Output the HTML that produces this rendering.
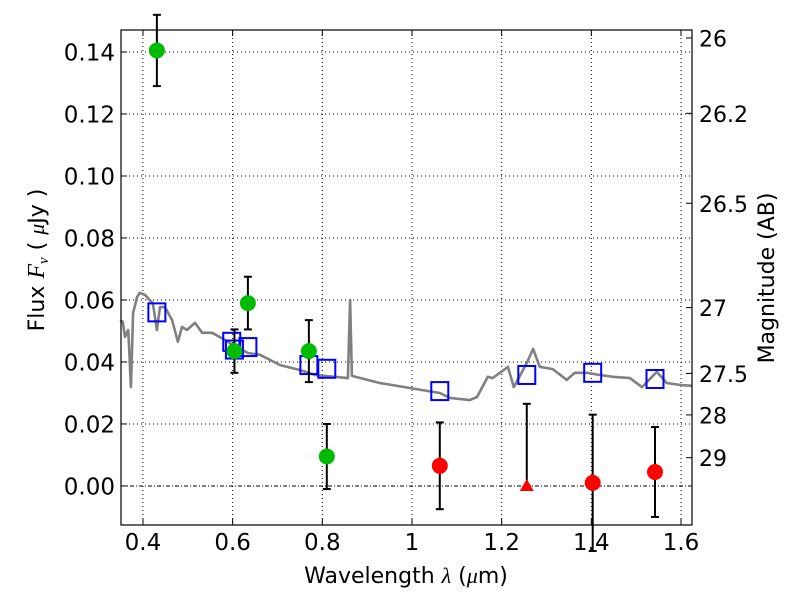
<!DOCTYPE html>
<html><head><meta charset="utf-8"><style>
html,body{margin:0;padding:0;background:#fff;}
svg{display:block;font-family:"DejaVu Sans","Liberation Sans",sans-serif;}
</style></head><body>
<svg id="chart" width="800" height="600"></svg>
<script>
const specLambda=[0.349,0.355,0.360,0.367,0.369,0.373,0.378,0.387,0.393,0.405,0.411,0.422,0.431,0.438,0.449,0.465,0.478,0.487,0.498,0.516,0.532,0.554,0.576,0.594,0.621,0.634,0.661,0.706,0.750,0.784,0.857,0.862,0.866,0.928,0.995,1.062,1.085,1.129,1.145,1.169,1.180,1.214,1.227,1.256,1.270,1.285,1.314,1.345,1.363,1.390,1.419,1.448,1.486,1.513,1.546,1.568,1.597,1.625];
const specFlux=[0.0535,0.0529,0.0481,0.0503,0.0448,0.0319,0.0558,0.0610,0.0623,0.0616,0.0606,0.0590,0.0503,0.0577,0.0577,0.0535,0.0465,0.0513,0.0503,0.0526,0.0494,0.0494,0.0477,0.0461,0.0439,0.0429,0.0423,0.0390,0.0374,0.0358,0.0348,0.0600,0.0355,0.0332,0.0316,0.0300,0.0284,0.0277,0.0287,0.0352,0.0348,0.0384,0.0319,0.0397,0.0442,0.0384,0.0377,0.0342,0.0365,0.0365,0.0358,0.0352,0.0348,0.0319,0.0368,0.0332,0.0326,0.0323];
const modelLambda=[0.431,0.598,0.604,0.634,0.770,0.810,1.062,1.256,1.403,1.542];
const modelFlux=[0.0560,0.0465,0.0440,0.0448,0.0390,0.0378,0.0306,0.0358,0.0365,0.0345];
const greenLambda=[0.431,0.604,0.634,0.770,0.810];
const greenFlux=[0.1405,0.0435,0.0590,0.0435,0.0095];
const greenErr=[0.0115,0.0070,0.0085,0.0100,0.0105];
const redLambda=[1.062,1.403,1.542];
const redFlux=[0.0065,0.0010,0.0045];
const redErr=[0.0140,0.0220,0.0145];
const triLambda=[1.256];
const triFlux=[0.0];
const triErrTop=[0.0265];
const xTicks=[0.4,0.6,0.8,1.0,1.2,1.4,1.6];
const xTickLabels=["0.4","0.6","0.8","1","1.2","1.4","1.6"];
const yTicks=[0,0.02,0.04,0.06,0.08,0.10,0.12,0.14];
const yTickLabels=["0.00","0.02","0.04","0.06","0.08","0.10","0.12","0.14"];
const magTicks=[26,26.2,26.5,27,27.5,28,29];
const magLabels=["26","26.2","26.5","27","27.5","28","29"];

const L=121,R=692,T=30,B=525,x0=0.351,x1=1.6245,y0=-0.0126,y1=0.1471;
const X=v=>L+(v-x0)/(x1-x0)*(R-L);
const Y=v=>B-(v-y0)/(y1-y0)*(B-T);
const NS="http://www.w3.org/2000/svg";
const svg=document.getElementById('chart');
function mk(tag,attrs,parent){const e=document.createElementNS(NS,tag);for(const k in attrs)e.setAttribute(k,attrs[k]);(parent||svg).appendChild(e);return e;}

xTicks.forEach((t,i)=>{
  const g=mk('line',{x1:X(t),x2:X(t),y1:T,y2:B,stroke:'#000','stroke-width':1,'stroke-dasharray':'1,3'});
  
  
});
yTicks.forEach((t,i)=>{
  const g=mk('line',{x1:L,x2:R,y1:Y(t),y2:Y(t),stroke:'#000','stroke-width':1,'stroke-dasharray':t===0?'4,2,1,2':'1,3'});
  
  
});

let d=specLambda.map((l,i)=>(i?'L':'M')+X(l).toFixed(1)+','+Y(specFlux[i]).toFixed(1)).join(' ');
const sp=mk('path',{d:d,fill:'none',stroke:'#808080','stroke-width':2.6,'stroke-linejoin':'round'});



modelLambda.forEach((l,i)=>{
  const s=mk('rect',{x:X(l)-8.5,y:Y(modelFlux[i])-9,width:17,height:18,fill:'none',stroke:'#0000ff','stroke-width':2});
  
  
});

function errbar(x,ylo,yhi){
  const g=mk('g',{stroke:'#000','stroke-width':2});
  
  
  mk('line',{x1:x,x2:x,y1:ylo,y2:yhi},g);
  mk('line',{x1:x-4,x2:x+4,y1:ylo,y2:ylo},g);
  mk('line',{x1:x-4,x2:x+4,y1:yhi,y2:yhi},g);
}
greenLambda.forEach((l,i)=>{
  errbar(X(l),Y(greenFlux[i]-greenErr[i]),Y(greenFlux[i]+greenErr[i]));
  const c=mk('circle',{cx:X(l),cy:Y(greenFlux[i]),r:8,fill:'#00bb00'});
  
  
});
redLambda.forEach((l,i)=>{
  errbar(X(l),Y(redFlux[i]-redErr[i]),Y(redFlux[i]+redErr[i]));
  const c=mk('circle',{cx:X(l),cy:Y(redFlux[i]),r:8,fill:'#ff0000'});
  
  
});
triLambda.forEach((l,i)=>{
  errbar(X(l),Y(triFlux[i]),Y(triErrTop[i]));
  const cx=X(l),cy=Y(triFlux[i]);
  const p=mk('polygon',{points:`${cx},${cy-7} ${cx-7},${cy+5} ${cx+7},${cy+5}`,fill:'#ff0000'});
  
  
});

const fr=mk('rect',{x:L,y:T,width:R-L,height:B-T,fill:'none',stroke:'#000','stroke-width':1.2});



xTicks.forEach((t,i)=>{
  mk('line',{x1:X(t),x2:X(t),y1:B,y2:B-6,stroke:'#000'});
  mk('line',{x1:X(t),x2:X(t),y1:T,y2:T+6,stroke:'#000'});
  const tx=mk('text',{x:X(t),y:B+25,'text-anchor':'middle','font-size':23});
  tx.textContent=xTickLabels[i];
  
  
});
yTicks.forEach((t,i)=>{
  mk('line',{x1:L,x2:L+6,y1:Y(t),y2:Y(t),stroke:'#000'});
  const tx=mk('text',{x:L-6,y:Y(t)+8.5,'text-anchor':'end','font-size':23});
  tx.textContent=yTickLabels[i];
  
  
});
magTicks.forEach((m,i)=>{
  const f=Math.pow(10,(23.9-m)/2.5);
  mk('line',{x1:R,x2:R-6,y1:Y(f),y2:Y(f),stroke:'#000'});
  const tx=mk('text',{x:R+7,y:Y(f)+8.5,'font-size':22});
  tx.textContent=magLabels[i];
  
  
});

const xt=mk('text',{x:406,y:583,'text-anchor':'middle','font-size':22});
xt.innerHTML='Wavelength  <tspan font-style="italic" font-family="Liberation Serif,serif">λ</tspan> (<tspan font-style="italic" font-family="Liberation Serif,serif">μ</tspan>m)';


const yt=mk('text',{x:0,y:0,'text-anchor':'middle','font-size':22,transform:'translate(44,260) rotate(-90)'});
yt.innerHTML='Flux  <tspan font-style="italic" font-family="Liberation Serif,serif" font-size="24">F</tspan><tspan font-size="15" dy="4" font-style="italic" font-family="Liberation Serif,serif">ν</tspan><tspan dy="-4">   (  </tspan><tspan font-style="italic" font-family="Liberation Serif,serif">μ</tspan>Jy )';


const rt=mk('text',{x:0,y:0,'text-anchor':'middle','font-size':22,transform:'translate(774,278) rotate(-90)'});
rt.textContent='Magnitude (AB)';


</script>
</body></html>
